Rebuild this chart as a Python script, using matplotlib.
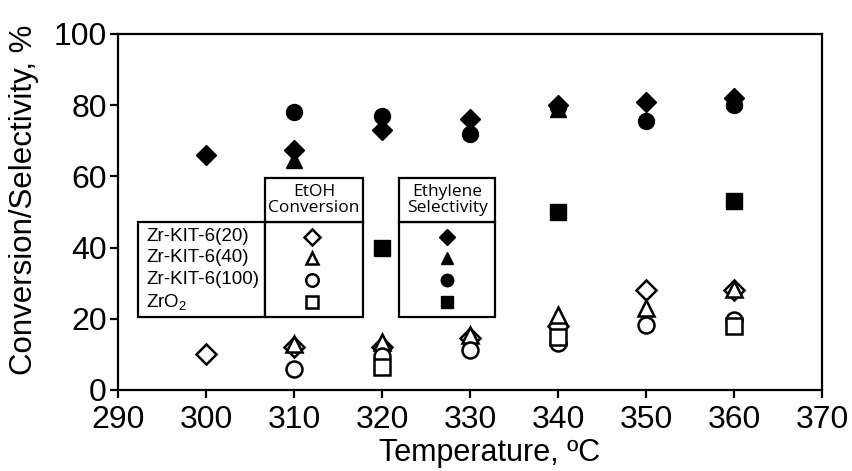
import numpy as np
import matplotlib
matplotlib.use("Agg")
import matplotlib.pyplot as plt
from matplotlib.patches import Rectangle

plt.rcParams['font.family'] = ['Liberation Sans', 'DejaVu Sans']
plt.rcParams['mathtext.default'] = 'regular'

nan = np.nan
temps = [300, 310, 320, 330, 340, 350, 360]

# EtOH conversion (open markers)
conv_kit20 = [10, 12, 12, 14.5, 18, 28, 28]
conv_kit40 = [nan, 13, 13.5, 15.5, 21, 23, 28.5]
conv_kit100 = [nan, 6, 9.5, 11.2, 13.2, 18.3, 19.7]
conv_zro2 = [nan, nan, 6.5, nan, 15, nan, 18]

# Ethylene selectivity (filled markers)
sel_kit20 = [66, 67.5, 73, 76, 80, 81, 82]
sel_kit40 = [nan, 64.5, nan, nan, 79, nan, 81.5]
sel_kit100 = [nan, 78, 77, 72, 79.5, 75.5, 80]
sel_zro2 = [nan, nan, 40, nan, 50, nan, 53]

catalysts = ['Zr-KIT-6(20)', 'Zr-KIT-6(40)', 'Zr-KIT-6(100)', 'ZrO$_2$']
markers = ['D', '^', 'o', 's']
sizes = [10.2, 11, 11.5, 11]
leg_sizes = [8.5, 9, 9, 9]

conv = [conv_kit20, conv_kit40, conv_kit100, conv_zro2]
sel = [sel_kit20, sel_kit40, sel_kit100, sel_zro2]

fig = plt.figure(figsize=(8.52, 4.71), dpi=100)
ax = fig.add_axes([0.1385, 0.172, 0.8265, 0.756])

for m, s, y in zip(markers, sizes, conv):
    ax.plot(temps, y, linestyle='none', marker=m, markersize=s,
            markerfacecolor='white', markeredgecolor='black', markeredgewidth=1.8, zorder=3)
for m, s, y in zip(markers, sizes, sel):
    ax.plot(temps, y, linestyle='none', marker=m, markersize=s,
            markerfacecolor='black', markeredgecolor='black', markeredgewidth=1.0, zorder=4)

ax.set_xlim(290, 370)
ax.set_ylim(0, 100)
ax.set_xticks(range(290, 371, 10))
ax.set_yticks(range(0, 101, 20))
for sp in ax.spines.values():
    sp.set_linewidth(1.6)
ax.tick_params(direction='out', length=6, width=1.6, labelsize=23, pad=2)
ax.tick_params(axis='x', pad=5)
ax.set_xlabel('Temperature, ºC', fontsize=22)
ax.set_ylabel('Conversion/Selectivity, %', fontsize=22.5)
ax.xaxis.set_label_coords(0.527, -0.135)
ax.yaxis.set_label_coords(-0.112, 0.535)

# custom table legend (axes fraction)
T = ax.transAxes
lw = 1.6
boxes = [(0.0284, 0.205, 0.1804, 0.267),
         (0.2088, 0.205, 0.1392, 0.267),
         (0.2088, 0.472, 0.1392, 0.1235),
         (0.399, 0.205, 0.1365, 0.267),
         (0.399, 0.472, 0.1365, 0.1235)]
for (x0, y0, w, h) in boxes:
    ax.add_patch(Rectangle((x0, y0), w, h, transform=T, facecolor='white',
                           edgecolor='black', linewidth=lw, zorder=5, clip_on=False))

ax.text(0.2784, 0.534, 'EtOH\nConversion', transform=T, ha='center', va='center',
        fontsize=12.5, family=['Open Sans', 'DejaVu Sans'], linespacing=1.0, zorder=6)
ax.text(0.4673, 0.534, 'Ethylene\nSelectivity', transform=T, ha='center', va='center',
        fontsize=12.5, family=['Open Sans', 'DejaVu Sans'], linespacing=1.0, zorder=6)

row_y = [0.430, 0.371, 0.309, 0.247]
for name, m, s, yy in zip(catalysts, markers, leg_sizes, row_y):
    ax.text(0.0398, yy, name, transform=T, ha='left', va='center', fontsize=13.5, zorder=6)
    ax.plot([0.2756], [yy], transform=T, marker=m, markersize=s, markerfacecolor='white',
            markeredgecolor='black', markeredgewidth=1.8, clip_on=False, zorder=7)
    ax.plot([0.467], [yy], transform=T, marker=m, markersize=s, markerfacecolor='black',
            markeredgecolor='black', markeredgewidth=1.0, clip_on=False, zorder=7)

fig.savefig('out.png', dpi=100)
